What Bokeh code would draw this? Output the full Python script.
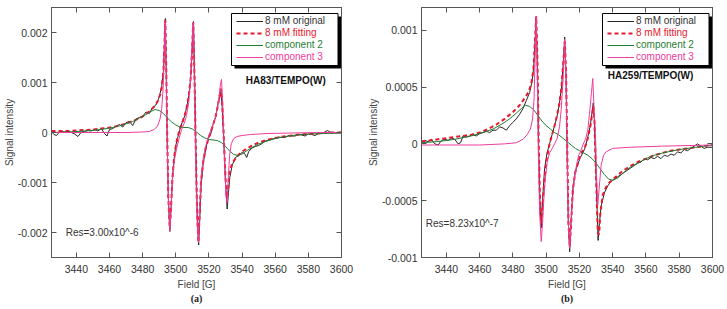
from bokeh.plotting import figure
from bokeh.layouts import row
from bokeh.models import (Range1d, FixedTicker, LinearAxis, Legend, LegendItem,
                          BoxAnnotation, Label, Title)
from bokeh.embed import file_html
from bokeh.resources import INLINE

# ---------------- data: panel (a) HA83/TEMPO(W) ----------------
orig_a_x = [3425, 3426.5, 3428, 3429.5, 3431, 3433, 3435, 3437, 3439, 3441, 3443, 3445, 3447, 3449,
            3451, 3453, 3455, 3457, 3458.5, 3460, 3462, 3464, 3466, 3468, 3470, 3472, 3474, 3476,
            3478, 3480, 3482, 3484, 3486, 3488, 3489.5, 3490.5, 3491.5, 3492.5, 3493.2, 3493.7,
            3494.3, 3494.8, 3495.5, 3496.4, 3497, 3498, 3499, 3500, 3501, 3502.5, 3504, 3505.5,
            3507, 3508, 3509, 3509.8, 3510.7, 3511.4, 3512.1, 3512.9, 3513.8, 3514.5, 3515.3,
            3516.5, 3518, 3519.5, 3521, 3522.5, 3524, 3525.5, 3526.5, 3527.3, 3528, 3529, 3530,
            3531, 3531.8, 3532.6, 3534, 3536, 3538, 3540, 3541.5, 3542.8, 3544, 3546, 3548, 3550,
            3552, 3554, 3556, 3558, 3560, 3562, 3564, 3566, 3568, 3570, 3572, 3574, 3576, 3578,
            3580, 3582, 3584, 3586, 3588, 3590, 3591.5, 3593, 3595, 3597, 3600]
orig_a_y = [0.00002, -0.00004, -0.00006, 0.0, 0.00002, 0.00001, 0.00003, 0.0, -0.00003, -0.00008,
            0.00001, 0.00002, 0.00004, 0.00003, 0.00006, 0.00003, 0.00008, -0.00002, -0.00007,
            0.00006, 0.00008, 0.00013, 0.00016, 0.00011, 0.0002, 0.00022, 0.00014, 0.00027,
            0.0003, 0.00032, 0.00041, 0.00038, 0.0005, 0.00055, 0.00066, 0.00078, 0.00092,
            0.0012, 0.0018, 0.00228, 0.0011, -0.0001, -0.0013, -0.00198, -0.0016, -0.0009,
            -0.00052, -0.00026, -0.00012, 0.00006, 0.00022, 0.00034, 0.00058, 0.00076, 0.0011,
            0.0016, 0.00222, 0.0011, -0.0003, -0.0016, -0.00225, -0.0017, -0.00105, -0.00062,
            -0.00035, -0.00012, -0.00004, 0.00016, 0.0003, 0.00058, 0.00072, 0.00082, 0.0005,
            -0.0002, -0.001, -0.00153, -0.0012, -0.0009, -0.00066, -0.0005, -0.00046, -0.0004,
            -0.00042, -0.0005, -0.00038, -0.00031, -0.00028, -0.00026, -0.00022, -0.00017,
            -0.00016, -0.00013, -0.00012, -0.00009, -0.0001, -0.0001, -0.00006, -0.00007,
            -0.00007, -0.00004, -0.00005, -0.00007, -0.00003, -0.00004, -0.00006, -0.00002,
            -0.00001, 0.00001, 0.00004, 0.00001, 0.0, -0.00001, 0.00001]

fit_a_x = [3425, 3430, 3435, 3440, 3445, 3450, 3455, 3460, 3465, 3470, 3475, 3480, 3484, 3487,
           3489, 3490.5, 3491.5, 3492.5, 3493.2, 3493.7, 3494.3, 3494.8, 3495.5, 3496.3, 3497,
           3498, 3499, 3500, 3501, 3502.5, 3504, 3505.5, 3507, 3508, 3509, 3509.8, 3510.5,
           3511.3, 3512, 3512.8, 3513.6, 3514.3, 3515.2, 3516.5, 3518, 3519.5, 3521, 3522.5,
           3524, 3525.5, 3526.5, 3527.2, 3528, 3529, 3530, 3530.8, 3531.6, 3532.5, 3534, 3536,
           3538, 3541, 3545, 3550, 3555, 3560, 3565, 3570, 3575, 3580, 3585, 3590, 3595, 3600]
fit_a_y = [0.00003, 0.00003, 0.00003, 0.00004, 0.00005, 0.00006, 0.00008, 0.0001, 0.00013,
           0.00018, 0.00024, 0.00032, 0.00042, 0.00052, 0.00062, 0.00075, 0.0009, 0.0012,
           0.0018, 0.00225, 0.0012, 0.0, -0.0013, -0.0019, -0.0016, -0.0009, -0.0005,
           -0.00028, -0.0001, 0.00008, 0.0002, 0.00036, 0.00056, 0.00078, 0.0011, 0.0016,
           0.0022, 0.0011, -0.0002, -0.0015, -0.0022, -0.0017, -0.001, -0.0006, -0.00032,
           -0.00015, 0.0, 0.00015, 0.00032, 0.00055, 0.00075, 0.00088, 0.0006, -0.0001,
           -0.0009, -0.0013, -0.0011, -0.0008, -0.00062, -0.00052, -0.00044, -0.00036,
           -0.00028, -0.0002, -0.00015, -0.00011, -0.00008, -0.00006, -0.00004, -0.00003,
           -0.00002, -0.00001, 0.0, 0.0]

comp2_a_x = [3425, 3435, 3445, 3455, 3462, 3468, 3474, 3478, 3482, 3485, 3487.5, 3490, 3492.5,
             3495, 3497.5, 3500, 3502.5, 3505, 3507.5, 3510, 3512.5, 3515, 3517.5, 3520, 3522.5,
             3525, 3527.5, 3530, 3532.5, 3535, 3537.5, 3540, 3543, 3546, 3550, 3555, 3560,
             3565, 3570, 3580, 3590, 3600]
comp2_a_y = [0.0, 0.00001, 0.00003, 0.00006, 0.0001, 0.00015, 0.00022, 0.00029, 0.00036,
             0.00042, 0.00046, 0.00044, 0.00038, 0.00029, 0.00021, 0.00015, 0.00011, 0.0001,
             0.0001, 0.00007, 0.00001, -0.00006, -0.00011, -0.00014, -0.00015, -0.00016,
             -0.0002, -0.00028, -0.00037, -0.00044, -0.00046, -0.00043, -0.00036, -0.0003,
             -0.00023, -0.00017, -0.00012, -0.00009, -0.00006, -0.00003, -0.00002, -0.00001]

comp3_a_x = [3425, 3450, 3470, 3480, 3484, 3487, 3489, 3490.5, 3491.5, 3492.3, 3493, 3493.6,
             3494.2, 3494.8, 3495.5, 3496.4, 3497.2, 3498, 3499, 3500.5, 3502, 3503.5, 3505,
             3506.5, 3507.8, 3508.8, 3509.6, 3510.4, 3511, 3511.7, 3512.4, 3513, 3513.7,
             3514.4, 3515.3, 3516.5, 3518, 3519.5, 3521, 3522.5, 3524, 3525.2, 3526.2, 3527,
             3527.6, 3528.3, 3529, 3529.7, 3530.4, 3531, 3531.7, 3532.5, 3533.5, 3535, 3537,
             3540, 3545, 3555, 3570, 3585, 3600]
comp3_a_y = [0.0, 0.0, 0.0, 0.00001, 0.00002, 0.00006, 0.00013, 0.00027, 0.00048, 0.00085,
             0.0015, 0.0022, 0.0012, -0.0002, -0.0013, -0.00197, -0.0015, -0.00095, -0.00058,
             -0.00032, -0.00012, 0.00006, 0.00018, 0.00034, 0.0006, 0.001, 0.0016, 0.0022,
             0.0014, 0.0, -0.0012, -0.0019, -0.0022, -0.0015, -0.0009, -0.00052, -0.00028,
             -0.0001, 0.00004, 0.00016, 0.00032, 0.0005, 0.00074, 0.00098, 0.00106, 0.0006,
             -0.0001, -0.0008, -0.0013, -0.0014, -0.0009, -0.00045, -0.00022, -0.00012,
             -0.00008, -0.00006, -0.00004, -0.00002, -0.00001, 0.0, 0.0]

# ---------------- data: panel (b) HA259/TEMPO(W) ----------------
orig_b_x = [3425, 3427, 3429, 3431, 3433, 3435, 3437, 3439, 3441, 3443, 3445, 3447, 3448.5, 3450,
            3452, 3454, 3456, 3458, 3460, 3462, 3464, 3466, 3468, 3470, 3472, 3474, 3476, 3478,
            3480, 3482, 3484, 3486, 3488, 3490, 3491.5, 3492.5, 3493.3, 3494, 3494.7, 3495.4,
            3496.2, 3497, 3497.8, 3499, 3500.5, 3502, 3503.5, 3505, 3506.5, 3508, 3509.2,
            3510.2, 3511.1, 3511.9, 3512.6, 3513.3, 3514.1, 3514.9, 3516, 3517.5, 3519, 3520.5,
            3522, 3523.5, 3525, 3526.5, 3527.5, 3528.3, 3529, 3530, 3531.2, 3532, 3533, 3535,
            3537, 3539, 3541, 3543, 3545, 3547, 3549, 3551, 3553, 3555, 3557, 3559, 3561, 3563,
            3565, 3567, 3569, 3571, 3573, 3575, 3577, 3579, 3581, 3583, 3585, 3587, 3589, 3591,
            3593, 3595, 3597, 3600]
orig_b_y = [0.00002, 0.00003, 0.00002, 0.00004, 0.0, -0.00001, 0.00003, 0.00004, 0.00003,
            0.00005, 0.00004, 0.0, 0.00001, 0.00007, 0.00006, 0.00007, 0.00008, 0.00007,
            0.00009, 0.0001, 0.00011, 0.0001, 0.00012, 0.00012, 0.00015, 0.00014, 0.00012,
            0.00016, 0.00019, 0.00022, 0.00026, 0.00031, 0.00038, 0.00045, 0.00055, 0.00068,
            0.0009, 0.00112, 0.0007, 0.0, -0.0005, -0.00074, -0.0005, -0.00022, -0.00008, 0.0,
            0.00008, 0.00016, 0.00024, 0.00036, 0.0005, 0.0007, 0.00094, 0.0006, -0.0001,
            -0.0007, -0.00095, -0.0007, -0.0004, -0.00024, -0.00018, -0.00012, -0.00008,
            -0.00003, 0.00006, 0.00016, 0.00027, 0.00036, 0.0002, -0.0003, -0.00085, -0.0007,
            -0.00055, -0.00043, -0.00037, -0.00033, -0.00031, -0.00029, -0.00027, -0.00025,
            -0.00023, -0.00021, -0.00019, -0.00017, -0.00016, -0.00013, -0.00014, -0.00012,
            -0.00013, -0.00011, -0.00013, -0.0001, -0.00011, -0.00009, -0.0001, -0.00007,
            -0.00008, -0.00005, -0.00006, -0.00004, -0.00002, 0.0, -0.00002, -0.00004,
            -0.00003, -0.00003]

fit_b_x = [3425, 3430, 3435, 3440, 3445, 3450, 3455, 3460, 3465, 3470, 3475, 3480, 3484, 3487,
           3489.5, 3491, 3492.3, 3493.2, 3494, 3494.8, 3495.5, 3496.3, 3497.2, 3498, 3499,
           3500.5, 3502, 3503.5, 3505, 3506.5, 3508, 3509.2, 3510.2, 3511.2, 3512, 3512.7,
           3513.4, 3514.2, 3515, 3516, 3517.5, 3519, 3520.5, 3522, 3523.5, 3525, 3526.5,
           3527.5, 3528.3, 3529, 3530, 3531, 3531.8, 3532.6, 3534, 3536, 3538, 3541, 3545,
           3550, 3555, 3560, 3565, 3570, 3575, 3580, 3585, 3590, 3595, 3600]
fit_b_y = [0.00002, 0.00003, 0.00004, 0.00005, 0.00006, 0.00007, 0.00008, 0.0001, 0.00013,
           0.00017, 0.00022, 0.00028, 0.00034, 0.0004, 0.00046, 0.00053, 0.00065, 0.0009,
           0.00112, 0.0007, 0.0, -0.0005, -0.0007, -0.0005, -0.0003, -0.00012, 0.0, 0.00008,
           0.00016, 0.00025, 0.00036, 0.0005, 0.0007, 0.0009, 0.0006, -0.0001, -0.0007,
           -0.0009, -0.0007, -0.0004, -0.00025, -0.00017, -0.0001, -0.00006, -0.00002,
           0.00005, 0.00015, 0.00025, 0.00033, 0.0002, -0.0003, -0.00078, -0.0008, -0.0006,
           -0.00045, -0.00038, -0.00034, -0.0003, -0.00025, -0.0002, -0.00016, -0.00013,
           -0.0001, -0.00008, -0.00006, -0.00005, -0.00004, -0.00003, -0.00002, -0.00001]

comp2_b_x = [3425, 3435, 3445, 3455, 3462, 3468, 3474, 3478, 3482, 3485, 3487.5, 3490, 3492.5,
             3495, 3497.5, 3500, 3502.5, 3505, 3507.5, 3510, 3512.5, 3515, 3517.5, 3520, 3522.5,
             3525, 3527.5, 3530, 3532.5, 3535, 3537.5, 3540, 3543, 3546, 3550, 3555, 3560,
             3565, 3570, 3580, 3590, 3600]
comp2_b_y = [0.00001, 0.00002, 0.00004, 0.00007, 0.0001, 0.00013, 0.00018, 0.00022, 0.00027,
             0.00031, 0.00034, 0.00033, 0.0003, 0.00025, 0.0002, 0.00016, 0.00013, 0.0001,
             0.00008, 0.00005, 0.00002, -0.00001, -0.00004, -0.00006, -0.00008, -0.0001,
             -0.00013, -0.00017, -0.00022, -0.00027, -0.00031, -0.00032, -0.0003, -0.00026,
             -0.00021, -0.00017, -0.00013, -0.0001, -0.00008, -0.00005, -0.00003, -0.00001]

comp3_b_x = [3425, 3460, 3475, 3482, 3486, 3488.5, 3490.5, 3491.8, 3492.7, 3493.4, 3494, 3494.6,
             3495.3, 3496, 3497, 3497.8, 3498.6, 3499.5, 3500.6, 3502, 3503.6, 3505, 3506.6,
             3508, 3509, 3510.2, 3511.1, 3511.9, 3512.6, 3513.3, 3514.1, 3514.9, 3515.6,
             3516.8, 3518.2, 3519.5, 3520.6, 3522, 3523.6, 3525, 3526, 3527.2, 3528, 3528.8,
             3529.6, 3530.3, 3531, 3531.8, 3533, 3534.5, 3536, 3540, 3550, 3570, 3600]
comp3_b_y = [-0.00001, -0.00001, 0.0, 0.00001, 0.00004, 0.00008, 0.00013, 0.00022, 0.0004,
             0.0008, 0.00112, 0.0006, -0.0001, -0.0006, -0.00086, -0.0007, -0.00048, -0.0003,
             -0.00016, -0.00008, -0.00004, 0.0, 0.00005, 0.00015, 0.0003, 0.00058, 0.00092,
             0.0006, -0.0001, -0.0007, -0.00092, -0.0007, -0.00054, -0.00032, -0.00019,
             -0.0001, -0.00007, -0.00001, 0.00004, 0.00012, 0.00026, 0.00045, 0.000575,
             0.0003, 0.0001, -0.0003, -0.00054, -0.0004, -0.00019, -0.0001, -0.00007,
             -0.00004, -0.00003, -0.00002, -0.00001]

x_ticks = [3440, 3460, 3480, 3500, 3520, 3540, 3560, 3580, 3600]
y_ticks_a = [-0.002, -0.001, 0, 0.001, 0.002]
y_labels_a = ["-0.002", "-0.001", "0", "0.001", "0.002"]
y_ticks_b = [-0.001, -0.0005, 0, 0.0005, 0.001]
y_labels_b = ["-0.001", "-0.0005", "0", "0.0005", "0.001"]

series_names = ["8 mM original", "8 mM fitting", "component 2", "component 3"]

C_ORIG = "#262626"
C_FIT = "#e8192c"
C_C2 = "#1f7d35"
C_C3 = "#f03c9c"
AX = "#555555"
TXT = "#333333"
FONT = "Liberation Sans"

X0, X1 = 3425, 3600


def panel(width, bl, br, yr, yt, yl, ox, oy, fx, fy, c2x, c2y, c3x, c3y,
          tag, res_xy, res_text, tag_xy, caption):
    bt, bb = 7, 52
    H = 309
    fw = width - bl - br
    fh = H - bt - bb
    p = figure(width=width, height=H, x_range=Range1d(X0, X1), y_range=Range1d(*yr),
               output_backend="svg", toolbar_location=None,
               min_border_left=bl, min_border_right=br, min_border_top=bt, min_border_bottom=bb,
               background_fill_color="white", border_fill_color="white")
    p.grid.visible = False
    p.outline_line_color = AX
    p.outline_line_width = 1

    xa = p.xaxis[0]
    xa.ticker = FixedTicker(ticks=x_ticks)
    ya = p.yaxis[0]
    ya.ticker = FixedTicker(ticks=yt)
    ya.major_label_overrides = {v: s for v, s in zip(yt, yl)}
    for ax in (xa, ya):
        ax.major_tick_in = 5
        ax.major_tick_out = 0
        ax.minor_tick_line_color = None
        ax.axis_line_color = AX
        ax.major_tick_line_color = AX
        ax.major_label_text_font = FONT
        ax.major_label_text_font_size = "10.5px"
        ax.major_label_text_color = TXT
        ax.axis_label_text_font = FONT
        ax.axis_label_text_font_size = "10px"
        ax.axis_label_text_font_style = "normal"
        ax.axis_label_text_color = "#444444"
    xa.axis_label = "Field [G]"
    xa.major_label_standoff = 7
    xa.axis_label_standoff = 3
    ya.axis_label = "Signal intensity"
    ya.major_label_standoff = 4
    ya.axis_label_standoff = 0

    # mirrored ticks on top and right
    top = LinearAxis(ticker=FixedTicker(ticks=x_ticks), major_tick_in=5, major_tick_out=0,
                     minor_tick_line_color=None, axis_line_color=AX, major_tick_line_color=AX,
                     major_label_overrides={v: "" for v in x_ticks},
                     major_label_text_font_size="1px", major_label_standoff=0)
    right = LinearAxis(ticker=FixedTicker(ticks=yt), major_tick_in=5, major_tick_out=0,
                       minor_tick_line_color=None, axis_line_color=AX, major_tick_line_color=AX,
                       major_label_overrides={v: "" for v in yt},
                       major_label_text_font_size="1px", major_label_standoff=0)
    p.add_layout(top, "above")
    p.add_layout(right, "right")

    r_o = p.line(ox, oy, line_color=C_ORIG, line_width=1)
    r_f = p.line(fx, fy, line_color=C_FIT, line_width=2, line_dash="4 3")
    r_2 = p.line(c2x, c2y, line_color=C_C2, line_width=1)
    r_3 = p.line(c3x, c3y, line_color=C_C3, line_width=1)

    # legend box with drop shadow (pixel geometry relative to frame)
    Y0, Y1 = yr

    def dx(px):
        return X0 + px / fw * (X1 - X0)

    def dy(py):
        return Y1 - py / fh * (Y1 - Y0)

    box_r = fw - 3.5
    box_l = box_r - 106.5
    box_t, box_b = 6, 58
    sh = 3
    p.add_layout(BoxAnnotation(left=dx(box_l + sh), right=dx(box_r + sh), top=dy(box_t + sh),
                               bottom=dy(box_b + sh), fill_color="black", fill_alpha=1,
                               line_color=None))
    p.add_layout(BoxAnnotation(left=dx(box_l), right=dx(box_r), top=dy(box_t), bottom=dy(box_b),
                               fill_color="white", fill_alpha=1, line_color="black",
                               line_width=1, line_alpha=1))
    rows = [13.5, 25.5, 37.5, 49.5]
    for name, rend, col, rc in zip(series_names, [r_o, r_f, r_2, r_3],
                                   ["#333333", C_FIT, C_C2, C_C3], rows):
        lg = Legend(items=[LegendItem(label=name, renderers=[rend])],
                    location=(box_l + 5, fh - (rc + 6)),
                    border_line_alpha=0, background_fill_alpha=0, padding=0, margin=0,
                    spacing=0, glyph_width=27, glyph_height=12, label_height=12,
                    label_standoff=2, label_text_font=FONT, label_text_font_size="10px",
                    label_text_color=col)
        p.add_layout(lg)

    p.add_layout(Label(x=tag_xy[0], y=tag_xy[1], text=tag, text_align="right",
                       text_baseline="middle", text_font=FONT, text_font_size="10px",
                       text_font_style="bold", text_color="#111111"))
    p.add_layout(Label(x=res_xy[0], y=res_xy[1], text=res_text, text_align="left",
                       text_baseline="middle", text_font=FONT, text_font_size="10px",
                       text_color=TXT))
    p.add_layout(Title(text=caption, align="center", text_font="Liberation Serif",
                       text_font_size="10px", text_font_style="bold", text_color="#222222",
                       standoff=-3, offset=5), "below")
    return p


pa = panel(364, 51, 23, (-0.0025, 0.0025), y_ticks_a, y_labels_a,
           orig_a_x, orig_a_y, fit_a_x, fit_a_y, comp2_a_x, comp2_a_y, comp3_a_x, comp3_a_y,
           "HA83/TEMPO(W)", (3433.6, -0.002), "Res=3.00x10^-6", (3590.5, 0.00105), "(a)")
pb = panel(363, 57, 15, (-0.001, 0.0012), y_ticks_b, y_labels_b,
           orig_b_x, orig_b_y, fit_b_x, fit_b_y, comp2_b_x, comp2_b_y, comp3_b_x, comp3_b_y,
           "HA259/TEMPO(W)", (3427.6, -0.0007), "Res=8.23x10^-7", (3588.5, 0.0006), "(b)")

layout = row(pa, pb, spacing=0)
open("out.html", "w").write(file_html(layout, INLINE))
